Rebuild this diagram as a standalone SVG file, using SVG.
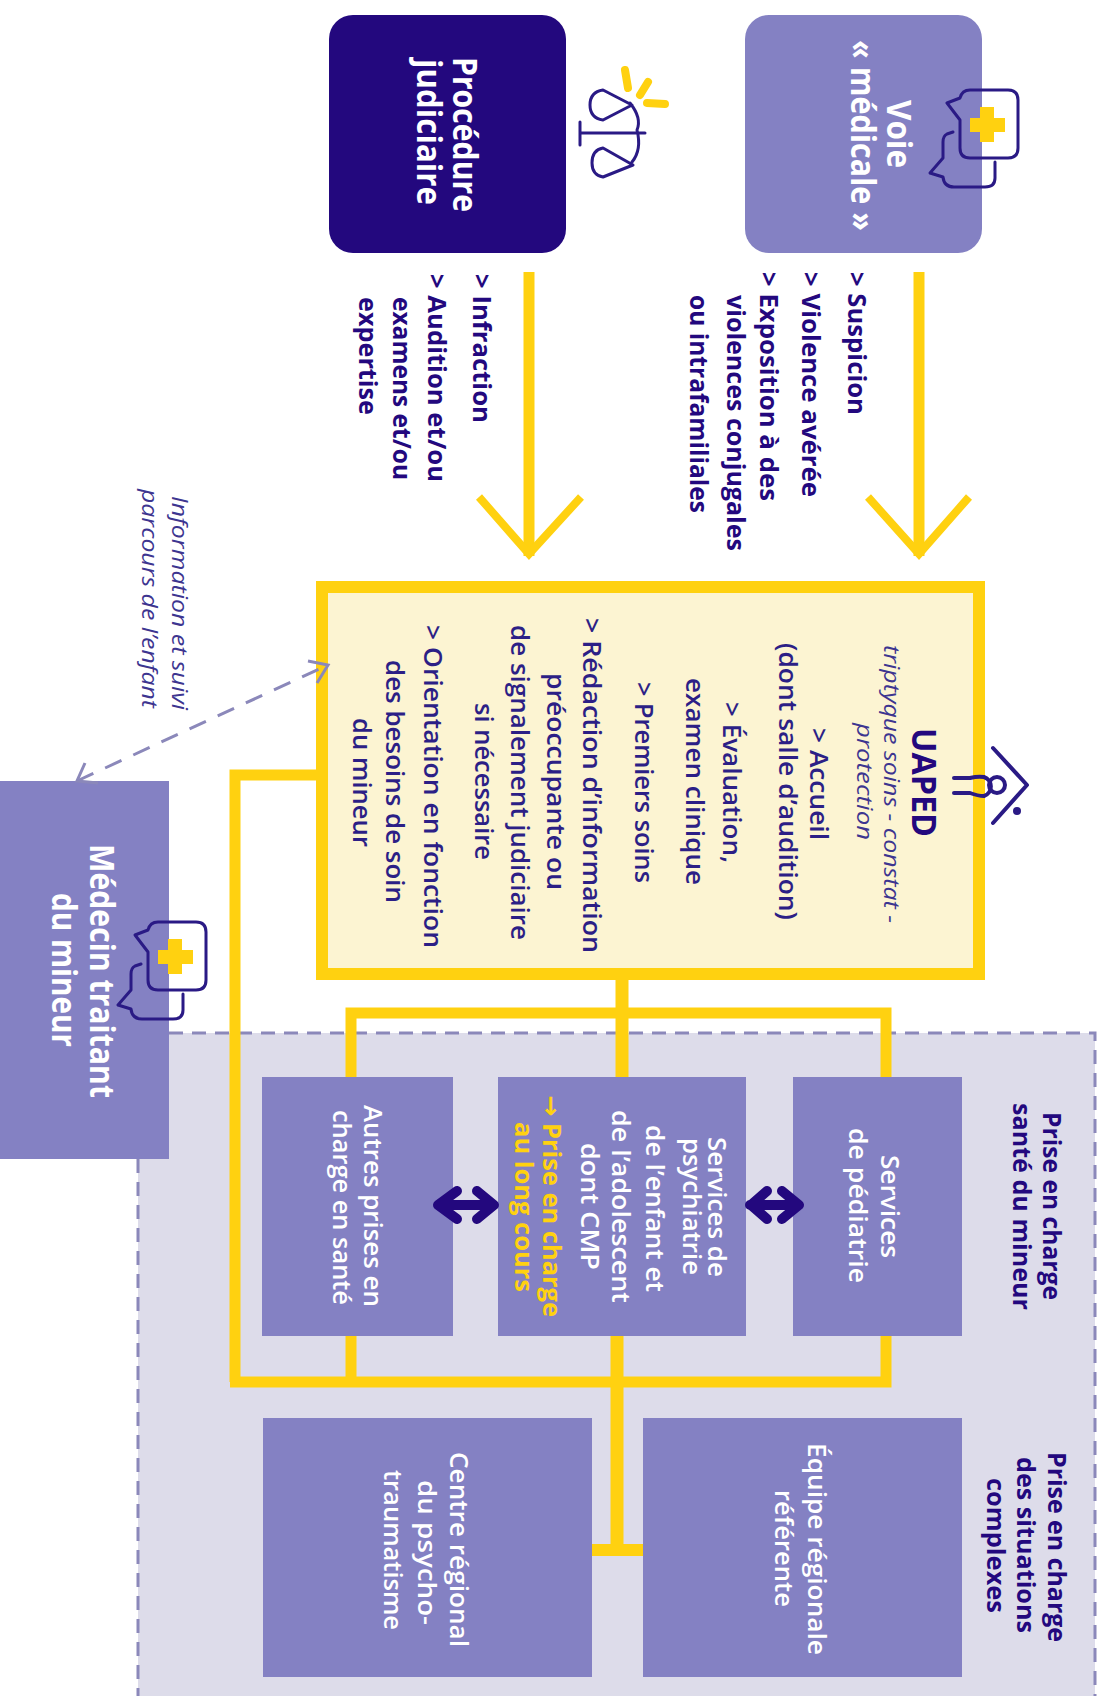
<svg xmlns="http://www.w3.org/2000/svg" xmlns:xlink="http://www.w3.org/1999/xlink" width="1105" height="1696" viewBox="0 0 1105 1696">
<style>
text{font-family:"Open Sans","Liberation Sans",sans-serif}
.box{fill:#8481c3}
.w{fill:#fff;font-weight:600;font-size:25px}
.wb{fill:#fff;font-weight:700;font-size:34px}
.d{fill:#23087e;font-weight:700;font-size:25px}
.u{fill:#2c1f86;font-weight:600;font-size:25px}
.i{fill:#3d3590;font-style:italic;font-weight:400;font-size:22px}
.y{fill:#ffd110;font-weight:700;font-size:25px}
.yl{fill:none;stroke:#ffd110;stroke-width:11}
.yh{fill:none;stroke:#ffd110;stroke-width:8;stroke-miterlimit:6}
.ic{fill:none;stroke:#2a1a85;stroke-width:3;stroke-linejoin:round;stroke-linecap:round}
.bi{fill:none;stroke:#23087e;stroke-width:10;stroke-linejoin:round;stroke-linecap:round}
.dash{fill:none;stroke:#8b88ba;stroke-width:3}
</style>
<defs>
<g id="med">
<path class="ic" d="M953 132L947 134Q943 136 943 142V158L930 173L943 177Q944 187 954 187H985Q995 187 995 178V162"/>
<path class="ic" d="M960 98Q962 90 970 90H1008Q1018 90 1018 100V148Q1018 158 1008 158H970Q960 158 960 148V120L947 103Z"/>
<path d="M980 107H994V118H1005V132H994V142H980V132H970V118H980Z" fill="#ffd110"/>
</g>
</defs>
<g id="zone">
<rect x="138" y="1033" width="957" height="663" fill="#dddcea"/>
<path class="dash" d="M138 1159V1696M169 1033H1095V1696" stroke-dasharray="14 9"/>
</g>
<g id="voie">
<rect class="box" x="745" y="15" width="237" height="238" rx="24"/>
<use xlink:href="#med" href="#med"/>
<text class="wb" transform="translate(887 100) rotate(90)" textLength="68" lengthAdjust="spacingAndGlyphs">Voie</text>
<text class="wb" transform="translate(851 40) rotate(90)" textLength="191" lengthAdjust="spacingAndGlyphs">« médicale »</text>
</g>
<g id="voie-list">
<text class="d" transform="translate(848 272) rotate(90)" textLength="143" lengthAdjust="spacingAndGlyphs">&gt; Suspicion</text>
<text class="d" transform="translate(802 272) rotate(90)" textLength="225" lengthAdjust="spacingAndGlyphs">&gt; Violence avérée</text>
<text class="d" transform="translate(760 272) rotate(90)" textLength="229" lengthAdjust="spacingAndGlyphs">&gt; Exposition à des</text>
<text class="d" transform="translate(727 295) rotate(90)" textLength="256" lengthAdjust="spacingAndGlyphs">violences conjugales</text>
<text class="d" transform="translate(690 295) rotate(90)" textLength="218" lengthAdjust="spacingAndGlyphs">ou intrafamiliales</text>
</g>
<g id="procedure">
<rect x="329" y="15" width="237" height="238" rx="24" fill="#23087e"/>
<text class="wb" transform="translate(453 57) rotate(90)" textLength="155" lengthAdjust="spacingAndGlyphs">Procédure</text>
<text class="wb" transform="translate(417 59) rotate(90)" textLength="146" lengthAdjust="spacingAndGlyphs">judiciaire</text>
</g>
<g id="balance">
<path class="ic" d="M580 122V145M580 133H645M630 103Q642 118 637 130Q642 150 632 162M632 105L603 90Q590 92 590 105Q590 118 603 120ZM633 165L603 148Q592 150 592 163Q592 175 603 177Z"/>
<path d="M625 70L628 88M648 82L640 95M647 103L665 104" fill="none" stroke="#ffd110" stroke-width="8" stroke-linecap="round"/>
</g>
<g id="procedure-list">
<text class="d" transform="translate(473 274) rotate(90)" textLength="149" lengthAdjust="spacingAndGlyphs">&gt; Infraction</text>
<text class="d" transform="translate(428 274) rotate(90)" textLength="208" lengthAdjust="spacingAndGlyphs">&gt; Audition et/ou</text>
<text class="d" transform="translate(393 297) rotate(90)" textLength="183" lengthAdjust="spacingAndGlyphs">examens et/ou</text>
<text class="d" transform="translate(359 297) rotate(90)" textLength="118" lengthAdjust="spacingAndGlyphs">expertise</text>
</g>
<g id="uaped">
<rect x="322" y="587" width="657" height="387" fill="#fcf4d2" stroke="#ffd110" stroke-width="12"/>
<path class="ic" style="stroke-width:4" d="M993 748L1027 785L993 823M954 778H970Q978 776 984 777A10 10 0 0 1 984 796Q978 796 970 793H954"/>
<circle class="ic" style="stroke-width:4" cx="997" cy="785" r="8"/>
<circle cx="1017" cy="811" r="4" fill="#2a1a85"/>
<text class="d" style="font-size:34px" transform="translate(911.5 728) rotate(90)" textLength="109" lengthAdjust="spacingAndGlyphs">UAPED</text>
<text class="i" transform="translate(884 645) rotate(90)" textLength="278" lengthAdjust="spacingAndGlyphs">triptyque soins - constat -</text>
<text class="i" transform="translate(857 723) rotate(90)" textLength="117" lengthAdjust="spacingAndGlyphs">protection</text>
<text class="u" transform="translate(810 728) rotate(90)" textLength="112" lengthAdjust="spacingAndGlyphs">&gt; Accueil</text>
<text class="u" transform="translate(779 643) rotate(90)" textLength="277" lengthAdjust="spacingAndGlyphs">(dont salle d’audition)</text>
<text class="u" transform="translate(723 702) rotate(90)" textLength="161" lengthAdjust="spacingAndGlyphs">&gt; Évaluation,</text>
<text class="u" transform="translate(686 678) rotate(90)" textLength="207" lengthAdjust="spacingAndGlyphs">examen clinique</text>
<text class="u" transform="translate(635 682) rotate(90)" textLength="201" lengthAdjust="spacingAndGlyphs">&gt; Premiers soins</text>
<text class="u" transform="translate(583 618) rotate(90)" textLength="335" lengthAdjust="spacingAndGlyphs">&gt; Rédaction d’information</text>
<text class="u" transform="translate(547 673) rotate(90)" textLength="217" lengthAdjust="spacingAndGlyphs">préoccupante ou</text>
<text class="u" transform="translate(511 625) rotate(90)" textLength="315" lengthAdjust="spacingAndGlyphs">de signalement judiciaire</text>
<text class="u" transform="translate(475 703) rotate(90)" textLength="157" lengthAdjust="spacingAndGlyphs">si nécessaire</text>
<text class="u" transform="translate(424 625) rotate(90)" textLength="323" lengthAdjust="spacingAndGlyphs">&gt; Orientation en fonction</text>
<text class="u" transform="translate(386 660) rotate(90)" textLength="243" lengthAdjust="spacingAndGlyphs">des besoins de soin</text>
<text class="u" transform="translate(353 718) rotate(90)" textLength="129" lengthAdjust="spacingAndGlyphs">du mineur</text>
</g>
<g id="info-label">
<text class="i" transform="translate(172 496) rotate(90)" textLength="214" lengthAdjust="spacingAndGlyphs">Information et suivi</text>
<text class="i" transform="translate(142 489) rotate(90)" textLength="219" lengthAdjust="spacingAndGlyphs">parcours de l’enfant</text>
</g>
<g id="medecin">
<rect class="box" x="0" y="781" width="169" height="378"/>
<use xlink:href="#med" href="#med" transform="translate(-812 832)"/>
<text class="wb" transform="translate(90 844) rotate(90)" textLength="254" lengthAdjust="spacingAndGlyphs">Médecin traitant</text>
<text class="wb" transform="translate(52 893) rotate(90)" textLength="154" lengthAdjust="spacingAndGlyphs">du mineur</text>
</g>
<g id="autres">
<rect class="box" x="262" y="1077" width="191" height="259"/>
<text class="w" transform="translate(364 1105) rotate(90)" textLength="202" lengthAdjust="spacingAndGlyphs">Autres prises en</text>
<text class="w" transform="translate(333 1110) rotate(90)" textLength="195" lengthAdjust="spacingAndGlyphs">charge en santé</text>
</g>
<g id="psychiatrie">
<rect class="box" x="498" y="1077" width="248" height="259"/>
<text class="w" transform="translate(708 1137) rotate(90)" textLength="140" lengthAdjust="spacingAndGlyphs">Services de</text>
<text class="w" transform="translate(683 1138) rotate(90)" textLength="137" lengthAdjust="spacingAndGlyphs">psychiatrie</text>
<text class="w" transform="translate(646 1125) rotate(90)" textLength="167" lengthAdjust="spacingAndGlyphs">de l’enfant et</text>
<text class="w" transform="translate(612 1110) rotate(90)" textLength="193" lengthAdjust="spacingAndGlyphs">de l’adolescent</text>
<text class="w" transform="translate(581 1143) rotate(90)" textLength="127" lengthAdjust="spacingAndGlyphs">dont CMP</text>
<text class="y" transform="translate(543 1095) rotate(90)" textLength="222" lengthAdjust="spacingAndGlyphs"><tspan style="font-family:'DejaVu Sans',sans-serif">→</tspan> Prise en charge</text>
<text class="y" transform="translate(515 1122) rotate(90)" textLength="170" lengthAdjust="spacingAndGlyphs">au long cours</text>
</g>
<g id="pediatrie">
<rect class="box" x="793" y="1077" width="169" height="259"/>
<text class="w" transform="translate(881 1155) rotate(90)" textLength="103" lengthAdjust="spacingAndGlyphs">Services</text>
<text class="w" transform="translate(849 1128) rotate(90)" textLength="155" lengthAdjust="spacingAndGlyphs">de pédiatrie</text>
</g>
<g id="centre">
<rect class="box" x="263" y="1418" width="329" height="259"/>
<text class="w" transform="translate(450 1452) rotate(90)" textLength="195" lengthAdjust="spacingAndGlyphs">Centre régional</text>
<text class="w" transform="translate(418 1480) rotate(90)" textLength="145" lengthAdjust="spacingAndGlyphs">du psycho-</text>
<text class="w" transform="translate(384 1470) rotate(90)" textLength="160" lengthAdjust="spacingAndGlyphs">traumatisme</text>
</g>
<g id="equipe">
<rect class="box" x="643" y="1418" width="319" height="259"/>
<text class="w" transform="translate(808 1443) rotate(90)" textLength="212" lengthAdjust="spacingAndGlyphs">Équipe régionale</text>
<text class="w" transform="translate(775 1490) rotate(90)" textLength="117" lengthAdjust="spacingAndGlyphs">référente</text>
</g>
<g id="zone-labels">
<text class="d" transform="translate(1043 1112) rotate(90)" textLength="188" lengthAdjust="spacingAndGlyphs">Prise en charge</text>
<text class="d" transform="translate(1013 1103) rotate(90)" textLength="207" lengthAdjust="spacingAndGlyphs">santé du mineur</text>
<text class="d" transform="translate(1048 1452) rotate(90)" textLength="190" lengthAdjust="spacingAndGlyphs">Prise en charge</text>
<text class="d" transform="translate(1017 1457) rotate(90)" textLength="176" lengthAdjust="spacingAndGlyphs">des situations</text>
<text class="d" transform="translate(987 1478) rotate(90)" textLength="135" lengthAdjust="spacingAndGlyphs">complexes</text>
</g>
<g id="connectors">
<path class="yl" d="M919 272V556"/>
<path class="yh" d="M868 497L919 554L969 497"/>
<path class="yl" d="M529 272V556"/>
<path class="yh" d="M479 497L529 554L581 497"/>
<path class="yl" d="M322 775H235V1382"/>
<path class="yl" d="M622 980V1077" style="stroke-width:13"/>
<path class="yl" d="M351 1077V1013H886V1077"/>
<path class="yl" d="M351 1336V1382M886 1336V1382H230"/>
<path class="yl" d="M617 1336V1550" style="stroke-width:13"/>
<path class="yl" d="M592 1550H643" style="stroke-width:12"/>
<path class="dash" d="M77 781L328 665" stroke-dasharray="18 13"/>
<path class="dash" d="M308 661L328 665L317 683M85 763L77 781L98 783"/>
<path class="bi" d="M441 1205H492M457 1191L438 1205L457 1219M477 1191L494 1205L477 1219"/>
<path class="bi" d="M750 1205H798M767 1191L751 1205L767 1219M782 1191L799 1205L782 1219"/>
</g>
</svg>
